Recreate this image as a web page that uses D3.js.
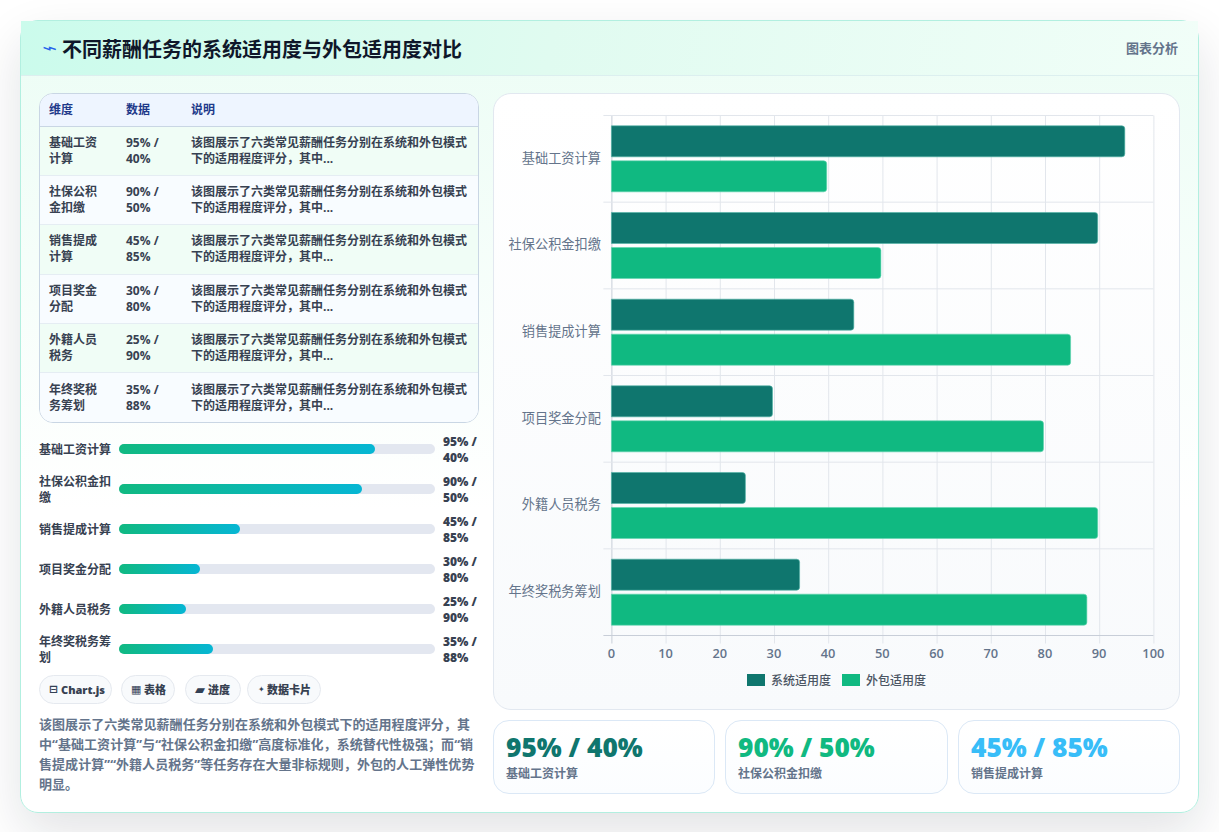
<!DOCTYPE html>
<html lang="zh-CN">
<head>
<meta charset="utf-8">
<title>不同薪酬任务的系统适用度与外包适用度对比</title>
<script src="https://cdn.jsdelivr.net/npm/d3@7/dist/d3.min.js"></script>
<style>
  * { box-sizing: border-box; }
  html, body { margin: 0; padding: 0; background: #fff; }
  body { width: 1219px; height: 834px; overflow: hidden; position: relative;
         font-family: "Open Sans", "Noto Sans CJK SC", sans-serif; color: #1f2937; }
  #page { position: absolute; inset: 0 0 2px 0; overflow: hidden; background: #fff; }
  #card { position: absolute; left: 20px; top: 20px; width: 1179px; height: 793px; border: 1px solid #b2efe0;
          border-radius: 18px; background: linear-gradient(180deg, #ecfdf5 0%, #ffffff 62%);
          box-shadow: 0 20px 50px rgba(15, 23, 42, .12); }
  #head { position: absolute; left: 0; top: 0; right: 0; height: 55px;
          background: linear-gradient(100deg, #cbfbec 0%, #e0fbf0 45%, #f1fef8 100%);
          border-bottom: 1px solid #dcefef; }
  #head .icon { position: absolute; left: 21px; top: 18px; font-family: "DejaVu Sans", sans-serif; font-size: 14px; color: #2563eb; line-height: 18px;
                transform: scale(1.8, 1.05); transform-origin: left center; }
  #head h1 { position: absolute; left: 41px; top: 15px; margin: 0; font-size: 20px; line-height: 28px;
             font-weight: 700; color: #0f172a; white-space: nowrap; }
  #head .tag { position: absolute; right: 20px; top: 18px; font-size: 13px; line-height: 18px;
               font-weight: 700; color: #64748b; }
  .abs { position: absolute; }
  #tbl-wrap { left: 18px; top: 72px; width: 440px; height: 330px; border: 1px solid #c9d6e4; border-radius: 14px;
              overflow: hidden; background: #fff; }
  #tbl { width: 100%; border-collapse: collapse; table-layout: fixed; font-size: 12px; line-height: 16px; font-weight: 700; color: #374151; }
  #tbl th { height: 32px; padding: 0 9px; text-align: left; color: #1e3a8a; background: #eef5ff; border-bottom: 1px solid #c9d6e4; font-weight: 700; }
  #tbl td { height: 49.35px; padding: 0 9px; vertical-align: middle; border-bottom: 1px solid #e5edf3; }
  #tbl tr:last-child td { border-bottom: none; }
  #tbl tbody tr:nth-child(odd) td { background: #f0fdf6; }
  #tbl tbody tr:nth-child(even) td { background: #f8fcff; }
  .p-label { left: 18px; width: 76px; font-size: 12px; line-height: 16px; font-weight: 700; color: #374151; }
  .p-value { left: 422px; width: 42px; font-size: 12px; line-height: 16px; font-weight: 800; color: #374151; }
  .p-track { left: 98px; width: 316px; height: 10px; border-radius: 5px; background: #e3e7f0; }
  .p-fill { height: 100%; border-radius: 5px; background: linear-gradient(90deg, #10b981, #06b6d4); }
  .badge { top: 654px; height: 29px; border: 1px solid #e5e9ef; border-radius: 15px; background: #f8fafc;
           font-size: 11px; line-height: 27px; font-weight: 800; color: #374151; white-space: nowrap; }
  .badge .g { position: absolute; top: 0; font-family: "DejaVu Sans", sans-serif; font-weight: 700; color: #334155; }
  .badge .t { position: absolute; top: 0; }
  #note { left: 18px; top: 693px; width: 442px; font-size: 13px; line-height: 20px; font-weight: 700; color: #64748b; margin: 0; letter-spacing: .06px; }
  #panel { left: 472px; top: 72px; width: 687px; height: 617px; border: 1px solid #e2e8f0; border-radius: 18px;
           background: linear-gradient(180deg, #ffffff 0%, #f8fafc 100%); }
  #chart { position: absolute; left: -1px; top: -1px; }
  .stat { top: 699px; height: 74px; border: 1px solid #dbe8f6; border-radius: 16px; background: linear-gradient(180deg, #fff, #fbfdff); }
  .stat .v { position: absolute; left: 12px; top: 10px; font-size: 26.3px; line-height: 32px; font-weight: 800; white-space: nowrap; }
  .stat .l { position: absolute; left: 12px; top: 44px; font-size: 12px; line-height: 18px; font-weight: 700; color: #64748b; white-space: nowrap; }
</style>
</head>
<body>
<div id="page"><div id="card">
  <div id="head">
    <span class="icon">⌁</span>
    <h1>不同薪酬任务的系统适用度与外包适用度对比</h1>
    <span class="tag">图表分析</span>
  </div>
  <div id="tbl-wrap" class="abs"></div>
  <div id="progress"></div>
  <div id="badges"></div>
  <p id="note" class="abs"></p>
  <div id="panel" class="abs"><svg id="chart" width="687" height="617"></svg></div>
  <div id="stats"></div>
</div></div>
<script>
// Scores per payroll task
const categories = ["基础工资计算", "社保公积金扣缴", "销售提成计算", "项目奖金分配", "外籍人员税务", "年终奖税务筹划"];
const systemFit = [95, 90, 45, 30, 25, 35];
const outsourceFit = [40, 50, 85, 80, 90, 88];
const seriesNames = ["系统适用度", "外包适用度"];
const seriesColors = ["#0f766e", "#10b981"];
const xTicks = [0, 10, 20, 30, 40, 50, 60, 70, 80, 90, 100];
const tableHeaders = ["维度", "数据", "说明"];
const tableNote = "该图展示了六类常见薪酬任务分别在系统和外包模式下的适用程度评分，其中...";
const badgeIcons = ["⊟", "▦", "▰", "✦"];
const badgeTexts = ["Chart.js", "表格", "进度", "数据卡片"];
const statIndexes = [0, 1, 2];
const statColors = ["#0f766e", "#10b981", "#38bdf8"];
const noteText = "该图展示了六类常见薪酬任务分别在系统和外包模式下的适用程度评分，其中“基础工资计算”与“社保公积金扣缴”高度标准化，系统替代性极强；而“销售提成计算”“外籍人员税务”等任务存在大量非标规则，外包的人工弹性优势明显。";

const pairLabel = i => `${systemFit[i]}% / ${outsourceFit[i]}%`;

// Summary table
const tbl = d3.select("#tbl-wrap").append("table").attr("id", "tbl");
const colgroup = tbl.append("colgroup");
[77, 65, 298].forEach(w => colgroup.append("col").style("width", w + "px"));
tbl.append("thead").append("tr").selectAll("th").data(tableHeaders).join("th").text(d => d);
const rows = tbl.append("tbody").selectAll("tr").data(categories).join("tr");
rows.append("td").text(d => d);
rows.append("td").text((d, i) => pairLabel(i));
rows.append("td").text(tableNote);

// Progress list: fill length follows the system score
const progressTop = d3.scaleBand().domain(d3.range(categories.length)).range([408, 648]);
const fillWidth = d3.scaleLinear().domain([0, 100]).range([0, 85.3]);
const progress = d3.select("#progress");
categories.forEach((name, i) => {
  const cy = progressTop(i) + progressTop.bandwidth() / 2;
  progress.append("div").attr("class", "abs p-label").style("top", (cy - (name.length > 6 ? 15 : 7)) + "px").text(name);
  progress.append("div").attr("class", "abs p-track").style("top", (cy - 5) + "px")
    .append("div").attr("class", "p-fill").style("width", fillWidth(systemFit[i]) + "%");
  progress.append("div").attr("class", "abs p-value").style("top", (cy - 15) + "px").text(pairLabel(i));
});

// Feature badges
const badgeBoxes = [[18, 73], [100, 54], [164, 56], [226, 74]];
const badgeIconX = [9, 9, 9, 10];
const badgeIconSize = [11, 11, 13, 8];
const badgeTextX = [21, 22, 22, 19];
const badges = d3.select("#badges").selectAll("div").data(badgeTexts).join("div")
  .attr("class", "abs badge")
  .style("left", (d, i) => badgeBoxes[i][0] + "px")
  .style("width", (d, i) => badgeBoxes[i][1] + "px");
badges.append("span").attr("class", "g")
  .style("left", (d, i) => badgeIconX[i] + "px")
  .style("font-size", (d, i) => badgeIconSize[i] + "px")
  .text((d, i) => badgeIcons[i]);
badges.append("span").attr("class", "t")
  .style("left", (d, i) => badgeTextX[i] + "px")
  .text(d => d);

d3.select("#note").text(noteText);

// Grouped horizontal bars
const svg = d3.select("#chart");
const plot = { left: 118.4, right: 660.4, top: 22.5, bottom: 542.5 };
const x = d3.scaleLinear().domain([0, 100]).range([plot.left, plot.right]);
const y0 = d3.scaleBand().domain(categories).range([plot.top, plot.bottom]);
const y1 = d3.scaleBand().domain([0, 1]).range([0, y0.bandwidth()]).paddingInner(0.114).paddingOuter(0.295);
const gridColor = "#e2e6ec", axisColor = "#c8ced8", tickColor = "#64748b";

const xAxis = d3.axisBottom(x).tickValues(xTicks).tickSize(plot.bottom - plot.top + 8).tickPadding(5);
const gx = svg.append("g").attr("transform", `translate(0,${plot.top})`).call(xAxis);
gx.select(".domain").remove();
gx.selectAll("line").attr("stroke", (d, i) => i === 0 ? axisColor : gridColor);
gx.selectAll("text").attr("fill", tickColor).attr("dx", -0.6).style("font-size", "12.8px").style("font-weight", "600")
  .style("font-family", '"Open Sans", sans-serif');

const yAxis = d3.axisLeft(y0).tickSize(0).tickPadding(10.5);
const gy = svg.append("g").attr("transform", `translate(${plot.left},-0.5)`).call(yAxis);
gy.select(".domain").remove();
gy.selectAll("text").attr("fill", tickColor).style("font-size", "13.2px").style("font-family", '"Noto Sans CJK SC", sans-serif');

// Horizontal separators sit on the category band edges
const bandEdges = categories.map(c => y0(c)).concat([plot.bottom]);
svg.append("g").selectAll("line").data(bandEdges).join("line")
  .attr("x1", plot.left - 8).attr("x2", plot.right)
  .attr("y1", d => d).attr("y2", d => d)
  .attr("stroke", (d, i) => i === bandEdges.length - 1 ? axisColor : gridColor);

const groups = svg.append("g").selectAll("g").data(categories).join("g")
  .attr("transform", d => `translate(0,${y0(d)})`);
[systemFit, outsourceFit].forEach((values, s) => {
  groups.append("path")
    .attr("fill", seriesColors[s])
    .attr("stroke", s === 0 ? "#4fb3a6" : "#5fd4ae")
    .attr("stroke-width", 0.6)
    .attr("d", (d, i) => {
      const x0 = x(0), x1 = x(values[i]) - 1.5, t = y1(s), b = t + y1.bandwidth(), r = 3;
      return `M${x0},${t}H${x1 - r}Q${x1},${t} ${x1},${t + r}V${b - r}Q${x1},${b} ${x1 - r},${b}H${x0}Z`;
    });
});

// Legend centred under the plot
const legend = svg.append("g").attr("transform", "translate(254,587)");
const legendX = [0, 95];
seriesNames.forEach((name, s) => {
  legend.append("rect").attr("x", legendX[s]).attr("y", -6).attr("width", 18).attr("height", 12).attr("fill", seriesColors[s]);
  legend.append("text").attr("x", legendX[s] + 24).attr("y", 4.5).attr("fill", "#4b5563")
    .style("font-size", "12px").style("font-weight", "500").style("font-family", '"Noto Sans CJK SC", sans-serif').text(name);
});

// Highlight cards for the first three tasks
const statLeft = [472, 704, 937], statWidth = [222, 223, 222];
const stats = d3.select("#stats").selectAll("div").data(statIndexes).join("div")
  .attr("class", "abs stat")
  .style("left", (d, i) => statLeft[i] + "px")
  .style("width", (d, i) => statWidth[i] + "px");
stats.append("div").attr("class", "v").style("color", (d, i) => statColors[i]).text(d => pairLabel(d));
stats.append("div").attr("class", "l").text(d => categories[d]);
</script>
</body>
</html>
